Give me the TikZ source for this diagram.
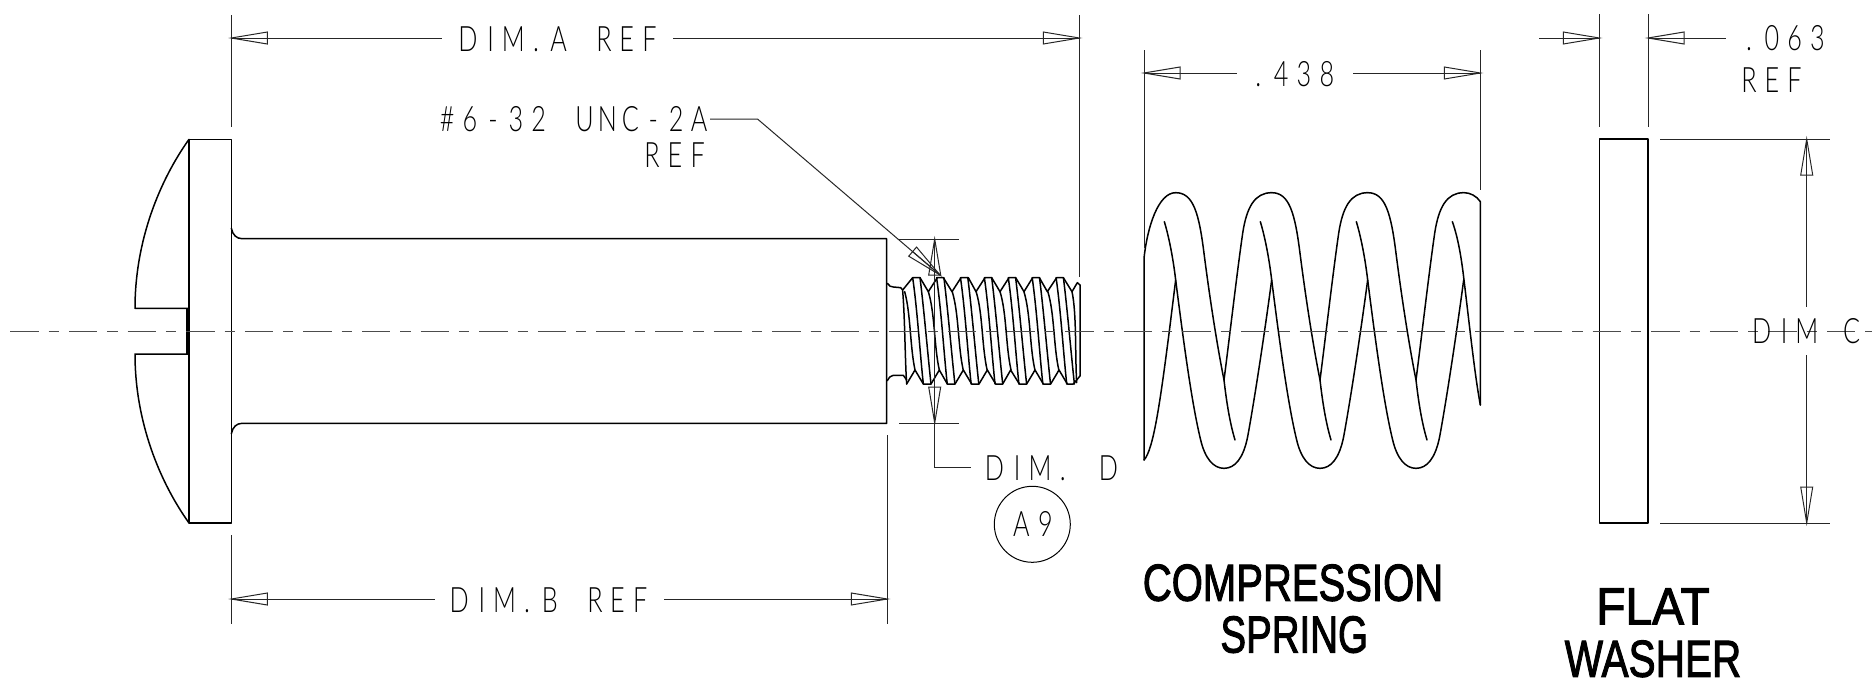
\documentclass[tikz,border=0pt]{standalone}
\usepackage{fontspec}
\newfontfamily\thinf[FakeStretch=0.72]{Lato Light}
\newfontfamily\boldf[FakeBold=2.2]{Liberation Sans}
\newdimen\mypitch
\def\ml#1{\ifx#1\relax\else\makebox[\mypitch][c]{#1}\expandafter\ml\fi}
\newcommand{\mono}[2]{\mypitch=#1pt\ml#2\relax}
\newcommand{\dimarrow}[2]{\begin{scope}[shift={#1},rotate=#2]
  \draw[thinline] (0,0)--(36,6)--(36,-6)--cycle;
  \draw[thinline] (0,0)--(36,0);\end{scope}}
\tikzset{
  main/.style={line width=1.5pt,line cap=round,line join=round},
  thinline/.style={line width=1.0pt,black!85,line join=miter},
  centerl/.style={line width=1.0pt,black!70,dash pattern=on 28.3pt off 10pt on 10.3pt off 10pt},
  lbl/.style={inner sep=0pt,outer sep=0pt,anchor=base west,font=\thinf\fontsize{35}{35}\selectfont},
  big/.style={inner sep=0pt,outer sep=0pt,anchor=base,font=\boldf\fontsize{52}{52}\selectfont}
}
\begin{document}
\begin{tikzpicture}[x=1pt,y=-1pt]
\useasboundingbox (0,0) rectangle (1874,686);
\fill[white] (0,0) rectangle (1874,686);

% screw head and shank
\begin{scope}[shift={(120,120)},x=0.33333pt,y=-0.33333pt]
\draw[main] (207,58) rectangle (334,1209);
\draw[main] (207,58) .. controls (120,180) and (45,360) .. (45,565) -- (207,565);
\draw[main] (207,1209) .. controls (120,1087) and (45,907) .. (45,702) -- (207,702);
\draw[line width=3.2pt] (204,565) -- (204,702);
\draw[main] (334,325) .. controls (338,345) and (350,356) .. (366,356) -- (2300,356) -- (2300,910) -- (366,910) .. controls (350,910) and (338,921) .. (334,941);
\end{scope}

% thread
\begin{scope}[shift={(860,220)},x=0.33333pt,y=-0.33333pt]
\draw[main] (82,190) .. controls (88,198) and (92,201) .. (100,201) -- (122,203) -- (128,210);
\draw[main] (82,482) .. controls (88,472) and (92,466) .. (100,466) -- (130,466) -- (140,480);
\draw[main] (128,210)--(158,173)--(180,173)--(205,215)--(232,173)--(250,173)--(276,215)--(303,173)--(325,173)--(348,215)--(375,173)--(395,173)--(420,215)--(447,173)--(467,173)--(492,215)--(518,173)--(538,173)--(562,215)--(590,173)--(610,173)--(636,215)--(652,188)--(660,195)--(660,468)--(640,492)--(622,492)--(597,450)--(572,492)--(550,492)--(525,450)--(500,492)--(478,492)--(452,450)--(428,492)--(407,492)--(382,450)--(357,492)--(335,492)--(310,450)--(285,492)--(262,492)--(238,450)--(213,492)--(190,492)--(165,450)--(140,492);
\draw[main] (128,212) .. controls (135,300) and (135,420) .. (140,492);
\draw[main] (134,215) .. controls (152,280) and (150,380) .. (165,450);
\foreach \k in {0,...,6}{
  \begin{scope}[xshift=\k*23.9pt]
  \draw[main] (158,173) .. controls (172,270) and (180,400) .. (190,492);
  \draw[main] (180,173) .. controls (192,270) and (203,400) .. (213,492);
  \ifnum\k<6
  \draw[main] (205,215) .. controls (225,280) and (222,380) .. (238,450);
  \fi
  \end{scope}
}
\draw[main] (636,215) .. controls (650,280) and (645,400) .. (650,488);
\end{scope}

% spring
\begin{scope}[shift={(1130,170)},x=0.33333pt,y=-0.33333pt]
\draw[main] (42,870) -- (42,265) .. controls (52,170) and (85,68) .. (137,68);
\draw[main] (42,870) .. controls (70,840) and (90,700) .. (118,483) -- (137,330);
\foreach \k in {0,1,2}{
 \begin{scope}[xshift=\k*96pt]
 \draw[main] (137,68) .. controls (190,68) and (207,130) .. (222,250) .. controls (240,390) and (262,530) .. (282,630) .. controls (290,700) and (300,760) .. (315,810);
 \draw[main] (282,630) .. controls (300,490) and (322,300) .. (338,190) .. controls (350,110) and (375,68) .. (425,68);
 \draw[main] (103,155) .. controls (118,205) and (130,270) .. (137,330) .. controls (160,510) and (185,700) .. (212,810) .. controls (225,865) and (250,895) .. (282,895) .. controls (315,895) and (340,865) .. (353,800) .. controls (375,680) and (405,480) .. (425,330);
 \end{scope}
}
\draw[main] (1002,68) .. controls (1020,68) and (1040,78) .. (1051,95) -- (1051,705);
\draw[main] (967,155) .. controls (985,205) and (995,270) .. (1002,330) .. controls (1020,480) and (1035,620) .. (1051,705);
\end{scope}

% washer
\draw[main] (1599.3,139) rectangle (1648,523);

% centre line
\draw[centerl] (10.4,331) -- (1872,331);

% dim A
\draw[thinline] (231.3,15) -- (231.3,127);
\draw[thinline] (1079.3,15) -- (1079.3,277);
\draw[thinline] (231.3,38) -- (442,38);
\draw[thinline] (673,38) -- (1079.3,38);
\dimarrow{(231.3,38)}{0}
\dimarrow{(1079.3,38)}{180}
\node[lbl] (dima) at (456.5,51) {\mono{22.7}{DIM.A~REF}};

% dim B
\draw[thinline] (231.3,535) -- (231.3,624);
\draw[thinline] (887.3,435) -- (887.3,624);
\draw[thinline] (231.3,599) -- (435,599);
\draw[thinline] (664,599) -- (887.3,599);
\dimarrow{(231.3,599)}{0}
\dimarrow{(887.3,599)}{180}
\node[lbl] (dimb) at (448,612) {\mono{22.6}{DIM.B~REF}};

% thread callout
\node[lbl] (tha) at (435.7,131.7) {\mono{22.9}{\#6-32~UNC-2A}};
\node[lbl] (thb) at (640.5,167.3) {\mono{22.9}{REF}};
\draw[thinline] (710,119) -- (757.5,119) -- (940,275);
\dimarrow{(940,275)}{139.5}

% dim D
\draw[thinline] (899,239) -- (959,239);
\draw[thinline] (899,423) -- (959,423);
\draw[thinline] (934.7,239) -- (934.7,467.7) -- (970.7,467.7);
\dimarrow{(934.7,239)}{-90}
\dimarrow{(934.7,423)}{90}
\node[lbl] (dimd) at (983,480.7) {\mono{22.8}{DIM.~D}};
\node[draw,circle,line width=1pt,minimum size=76pt,inner sep=0pt] (a9c) at (1032.3,524.3) {};
\node[lbl] (a9) at (1009.3,536.7) {\mono{24}{A9}};

% .438
\draw[thinline] (1144,50) -- (1144,248);
\draw[thinline] (1480.3,50) -- (1480.3,190);
\draw[thinline] (1144,73) -- (1237,73);
\draw[thinline] (1353,73) -- (1480.3,73);
\dimarrow{(1144,73)}{0}
\dimarrow{(1480.3,73)}{180}
\node[lbl] (d438) at (1247,86) {\mono{22.8}{.438}};

% .063
\draw[thinline] (1599.3,14) -- (1599.3,127);
\draw[thinline] (1648,14) -- (1648,127);
\draw[thinline] (1539,38) -- (1599.3,38);
\draw[thinline] (1648,38) -- (1725.7,38);
\dimarrow{(1599.3,38)}{180}
\dimarrow{(1648,38)}{0}
\node[lbl] (d063) at (1737.6,50) {\mono{22.8}{.063}};
\node[lbl] (d063r) at (1737.6,92.7) {\mono{22.8}{REF}};

% dim C
\draw[thinline] (1660,139) -- (1830,139);
\draw[thinline] (1660,523) -- (1830,523);
\draw[thinline] (1806.7,139) -- (1806.7,306.7);
\draw[thinline] (1806.7,355) -- (1806.7,523);
\dimarrow{(1806.7,139)}{-90}
\dimarrow{(1806.7,523)}{90}
\node[lbl] (dimc) at (1750.5,343.3) {\mono{22.5}{DIM~C}};

% titles
\node[big] (t1) at (1293,600.7) {\scalebox{0.77}[1]{COMPRESSION}};
\node[big] (t2) at (1294.2,652.5) {\scalebox{0.74}[1]{SPRING}};
\node[big] (t3) at (1653,624.3) {\scalebox{0.92}[1]{FLAT}};
\node[big] (t4) at (1653,676.7) {\scalebox{0.78}[1]{WASHER}};
\end{tikzpicture}
\end{document}
